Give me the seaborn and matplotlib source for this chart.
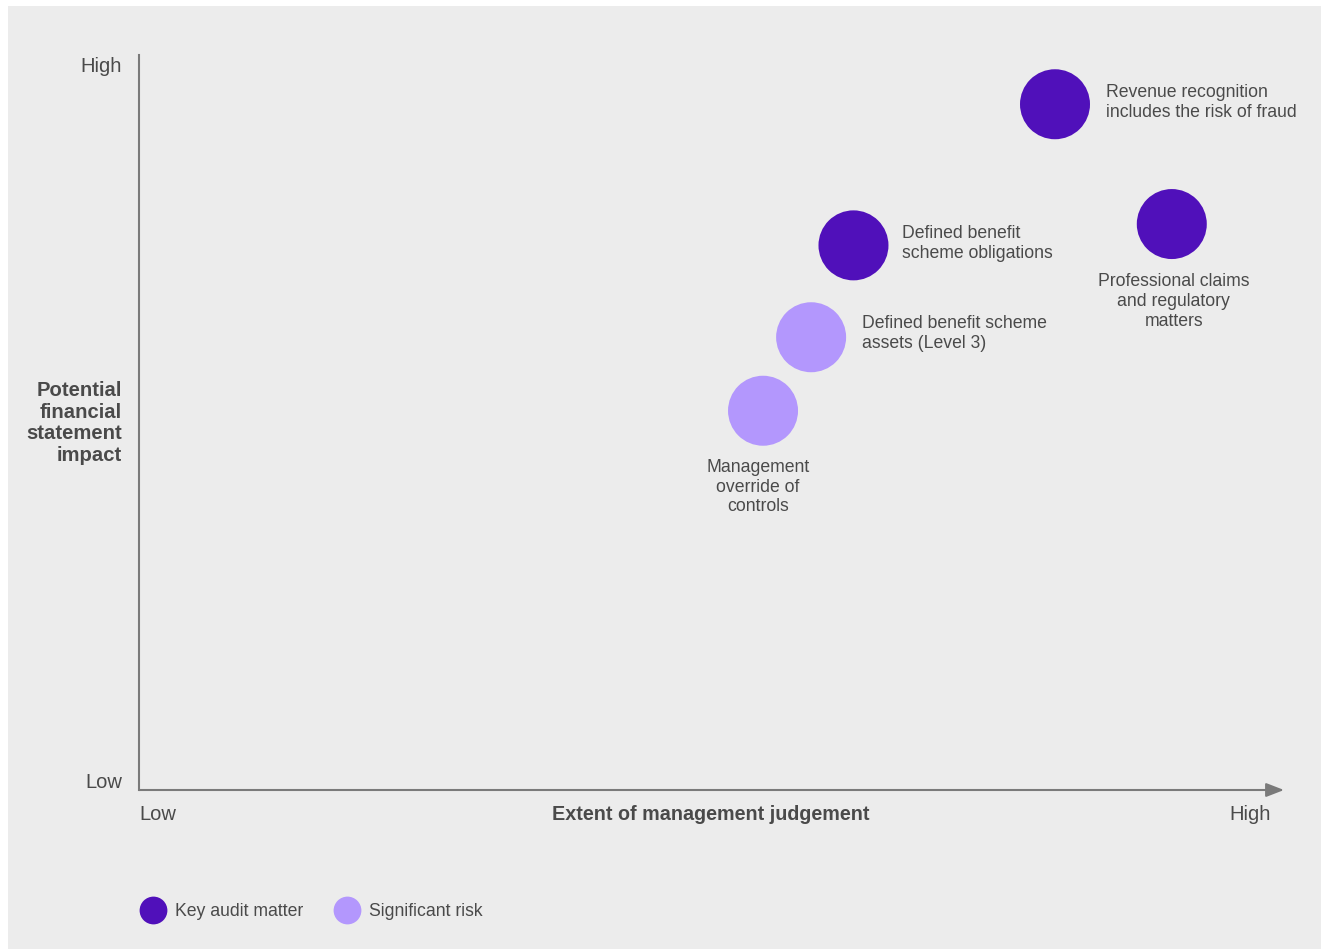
import matplotlib
matplotlib.use("Agg")
import matplotlib.pyplot as plt
import seaborn as sns
import pandas as pd
from matplotlib.lines import Line2D
from matplotlib.patches import Rectangle

# ---- data ----
risks = [
    "Revenue recognition\nincludes the risk of fraud",
    "Professional claims\nand regulatory\nmatters",
    "Defined benefit\nscheme obligations",
    "Defined benefit scheme\nassets (Level 3)",
    "Management\noverride of\ncontrols",
]
judgement = [80.0, 90.2, 62.4, 58.7, 54.5]
impact = [93.3, 77.0, 74.1, 61.6, 51.6]
category = ["Key audit matter", "Key audit matter", "Key audit matter",
            "Significant risk", "Significant risk"]
categories = ["Key audit matter", "Significant risk"]
colors = ["#5010BA", "#B397FD"]
x_ticklabels = ["Low", "High"]
y_ticklabels = ["Low", "High"]
x_label = "Extent of management judgement"
y_label = "Potential\nfinancial\nstatement\nimpact"

df = pd.DataFrame({"risk": risks, "x": judgement, "y": impact, "cat": category})

sns.set_theme(style="white")
plt.rcParams["font.family"] = ["Liberation Sans", "DejaVu Sans"]
TXT = "#4a4a4a"
AX = "#7a7a7a"
BG = "#ececec"

W, H = 1321, 949
fig = plt.figure(figsize=(W / 100, H / 100), dpi=100, facecolor="white")
fig.patches.append(Rectangle((8 / W, 0), 1 - 8 / W, 1 - 6 / H, transform=fig.transFigure,
                             facecolor=BG, edgecolor="none", zorder=-10))

ax = fig.add_axes([139 / W, (H - 790) / H, (1284 - 139) / W, (790 - 55) / H])
ax.set_facecolor("none")

sns.scatterplot(data=df, x="x", y="y", hue="cat", hue_order=categories,
                palette=colors, s=2540, linewidth=0, legend=False, ax=ax, zorder=3)

ax.set_xlim(0, 100)
ax.set_ylim(0, 100)
ax.set_xticks([])
ax.set_yticks([])
ax.set_xlabel("")
ax.set_ylabel("")
for side in ["top", "right", "bottom"]:
    ax.spines[side].set_visible(False)
ax.spines["left"].set_color(AX)
ax.spines["left"].set_linewidth(1.5)

# bottom axis arrow
ax.annotate("", xy=(1.0, 0), xytext=(0, 0), xycoords="axes fraction",
            textcoords="axes fraction",
            arrowprops=dict(arrowstyle="-|>,head_length=0.9,head_width=0.35",
                            color=AX, lw=1.5, shrinkA=0, shrinkB=0))

# annotations for bubbles (offsets in points)
offsets = [(36.5, 1.5, "left", "center"),
           (1.5, -35.5, "center", "top"),
           (35, 1.5, "left", "center"),
           (36.5, 2.5, "left", "center"),
           (-3.5, -34.5, "center", "top")]
for (lab, xv, yv), (dx, dy, ha, va) in zip(zip(risks, judgement, impact), offsets):
    ax.annotate(lab, (xv, yv), xytext=(dx, dy), textcoords="offset points",
                ha=ha, va=va, fontsize=12.7, color=TXT, linespacing=1.22,
                multialignment=ha)

# tick-like labels
TK = 14.5
fig.text(122 / W, 1 - 66 / H, y_ticklabels[1], ha="right", va="center", fontsize=TK, color=TXT)
fig.text(122 / W, 1 - 783 / H, y_ticklabels[0], ha="right", va="center", fontsize=TK, color=TXT)
fig.text(139 / W, 1 - 815 / H, x_ticklabels[0], ha="left", va="center", fontsize=TK, color=TXT)
fig.text(1271 / W, 1 - 815 / H, x_ticklabels[1], ha="right", va="center", fontsize=TK, color=TXT)

fig.text(711 / W, 1 - 815 / H, x_label, ha="center", va="center", fontsize=14.2,
         fontweight="bold", color=TXT)
fig.text(122 / W, 1 - 423 / H, y_label, ha="right", va="center", fontsize=14.6,
         fontweight="bold", color=TXT, linespacing=1.17, multialignment="right")

# legend
handles = [Line2D([0], [0], marker="o", linestyle="none", markersize=20,
                  markerfacecolor=c, markeredgewidth=0) for c in colors]
leg = fig.legend(handles, categories, loc="center left",
                 bbox_to_anchor=(123 / W, 1 - 912 / H), ncol=2, frameon=False,
                 fontsize=12.7, handletextpad=0.45, columnspacing=1.7, handlelength=1.6,
                 borderaxespad=0.5, borderpad=0.4)
for t in leg.get_texts():
    t.set_color(TXT)

fig.savefig("out.png", dpi=100, facecolor=fig.get_facecolor())
